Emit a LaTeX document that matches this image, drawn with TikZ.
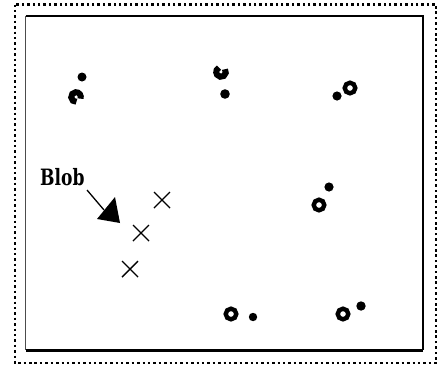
\documentclass[tikz,border=0pt]{standalone}
\usepackage{fontspec}
\usepackage{graphicx}
\newfontfamily\blobfont{DejaVu Serif}
\usetikzlibrary{calc}
\begin{document}
\begin{tikzpicture}[x=1pt,y=-1pt,
  dotfill/.style={fill=black,draw=none},
  ringmark/.style={draw=black,line width=4.4pt},
  crescent/.style={draw=black,line width=6pt},
  xmark/.style={draw=black,line width=1.4pt},
  lbl/.style={font=\blobfont\bfseries,inner sep=0pt,anchor=base west}]
\useasboundingbox (0,0) rectangle (438,370);
% outer dotted frame
\draw[line width=2.5pt,dash pattern=on 2.5pt off 2.9pt] (15,4.5) rectangle (436,363);
% inner frame
\draw[line width=1pt,black!70] (25.7,16) -- (25.7,350);
\draw[line width=2pt] (25.7,16) -- (423,16) -- (423,350);
\draw[line width=3pt] (25.7,350) -- (423,350);
% top-left pair
\fill[dotfill] (82,77) circle (4.5);
\draw[crescent] (76,97) ++(85:4.8) arc[start angle=85,end angle=380,radius=4.8];
% top-middle pair
\draw[crescent] (221,72) ++(-35:4.8) arc[start angle=-35,end angle=245,radius=4.8];
\fill[dotfill] (225,94) circle (4.8);
% top-right pair
\draw[ringmark] (350,88) circle (5.3);
\fill[dotfill] (337,96) circle (4.6);
% right-middle pair
\draw[ringmark] (319,205) circle (5.3);
\fill[dotfill] (329,187) circle (4.6);
% bottom pairs
\draw[ringmark] (231,314) circle (5.3);
\fill[dotfill] (253,317) circle (4.2);
\draw[ringmark] (343,314) circle (5.3);
\fill[dotfill] (361,306) circle (4.7);
% crosses
\foreach \n/\x/\y in {xa/162/200,xb/141/233,xc/130/269}{
  \coordinate (\n) at (\x,\y);
  \draw[xmark] ($(\n)+(-8,-8)$) -- ($(\n)+(8,8)$);
  \draw[xmark] ($(\n)+(-8,8)$) -- ($(\n)+(8,-8)$);
}
% Blob label and arrow
\node[lbl] (blob) at (40,185) {\scalebox{0.95}[1.25]{\fontsize{18}{22}\selectfont Blob}};
\coordinate (blobtail) at (87,190);
\coordinate (blobtip) at (104,210);
\draw[line width=1.3pt] (blobtail) -- (blobtip);
\fill[black] (97,219) -- (115,197) -- (120,223) -- cycle;
\end{tikzpicture}
\end{document}
